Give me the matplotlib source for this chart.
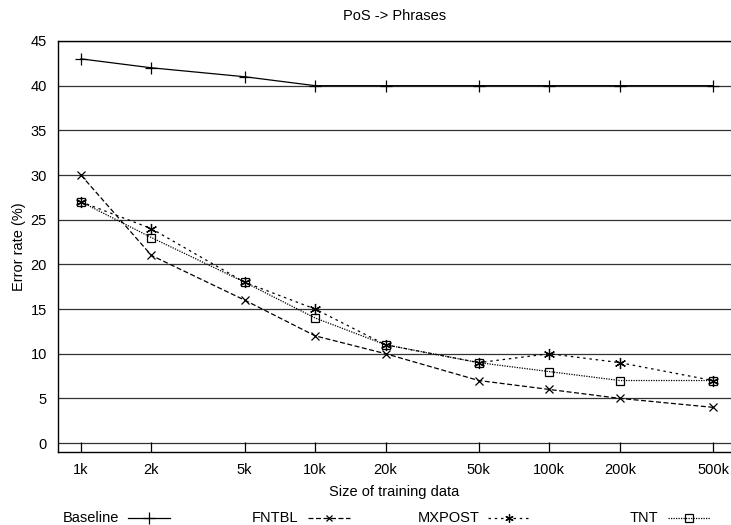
import matplotlib
matplotlib.use("Agg")
import matplotlib.pyplot as plt
from matplotlib.lines import Line2D

plt.rcParams['font.family'] = ['Liberation Sans', 'DejaVu Sans']

sizes = [1000, 2000, 5000, 10000, 20000, 50000, 100000, 200000, 500000]
size_labels = ["1k", "2k", "5k", "10k", "20k", "50k", "100k", "200k", "500k"]
baseline = [43, 42, 41, 40, 40, 40, 40, 40, 40]
fntbl = [30, 21, 16, 12, 10, 7, 6, 5, 4]
mxpost = [27, 24, 18, 15, 11, 9, 10, 9, 7]
tnt = [27, 23, 18, 14, 11, 9, 8, 7, 7]
y_ticks = [0, 5, 10, 15, 20, 25, 30, 35, 40, 45]

series = [
    ("Baseline", baseline, dict(linestyle='-', marker='+', markersize=8)),
    ("FNTBL", fntbl, dict(linestyle=(0, (4, 2)), marker='x', markersize=6)),
    ("MXPOST", mxpost, dict(linestyle=(0, (2, 3)), marker=(6, 2, 0), markersize=8)),
    ("TNT", tnt, dict(linestyle=(0, (1, 1)), marker='s', markersize=6,
                      markerfacecolor='none')),
]
legend_marker_size = [8, 5, 6, 6]

fs = 10.5
fig = plt.figure(figsize=(7.31, 5.25), dpi=100)
W, H = 731, 525
ax = fig.add_axes([58 / W, (H - 452) / H, (731 - 58) / W, (452 - 41) / H])

ax.set_xscale('log')
ax.set_xlim(798, 597000)
ax.set_ylim(-1, 45)

for y in y_ticks:
    ax.axhline(y, color='#333333', linewidth=0.9, zorder=1)

for name, vals, st in series:
    ax.plot(sizes, vals, color='black', linewidth=0.9, markeredgewidth=0.9,
            zorder=3, clip_on=False, **st)

ax.set_xticks(sizes)
ax.set_xticklabels(size_labels, fontsize=fs)
ax.minorticks_off()
ax.set_yticks(y_ticks)
ax.set_yticklabels([str(v) for v in y_ticks], fontsize=fs)
ax.tick_params(axis='x', direction='in', length=7, width=0.9, pad=8,
               top=False, bottom=True)
ax.tick_params(axis='y', length=0, pad=8)
for s in ax.spines.values():
    s.set_linewidth(1.0)
ax.spines['right'].set_visible(False)

ax.set_xlabel("Size of training data", fontsize=fs, labelpad=6)
ax.set_ylabel("Error rate (%)", fontsize=fs, labelpad=3)
ax.set_title("PoS -> Phrases", fontsize=fs, pad=15)

# legend drawn in figure pixel coordinates, gnuplot style (text then sample)
leg_y = (H - 518) / H
text_right = [119, 298, 480, 658]
line_start = [128, 308, 488, 668]
line_len = 42
for (name, vals, st), tr, ls, ms in zip(series, text_right, line_start,
                                         legend_marker_size):
    fig.text(tr / W, leg_y, name, ha='right', va='center', fontsize=fs)
    st2 = dict(st)
    st2.pop('marker'); st2.pop('markersize')
    mfc = st2.pop('markerfacecolor', None)
    fig.add_artist(Line2D([ls / W, (ls + line_len) / W], [leg_y, leg_y],
                          transform=fig.transFigure, color='black',
                          linewidth=0.9, **st2))
    fig.add_artist(Line2D([(ls + line_len / 2) / W], [leg_y],
                          transform=fig.transFigure, color='black',
                          marker=st['marker'], markersize=ms,
                          markeredgewidth=0.9, linestyle='none',
                          markerfacecolor=mfc if mfc else 'black'))

fig.savefig("out.png", dpi=100)
